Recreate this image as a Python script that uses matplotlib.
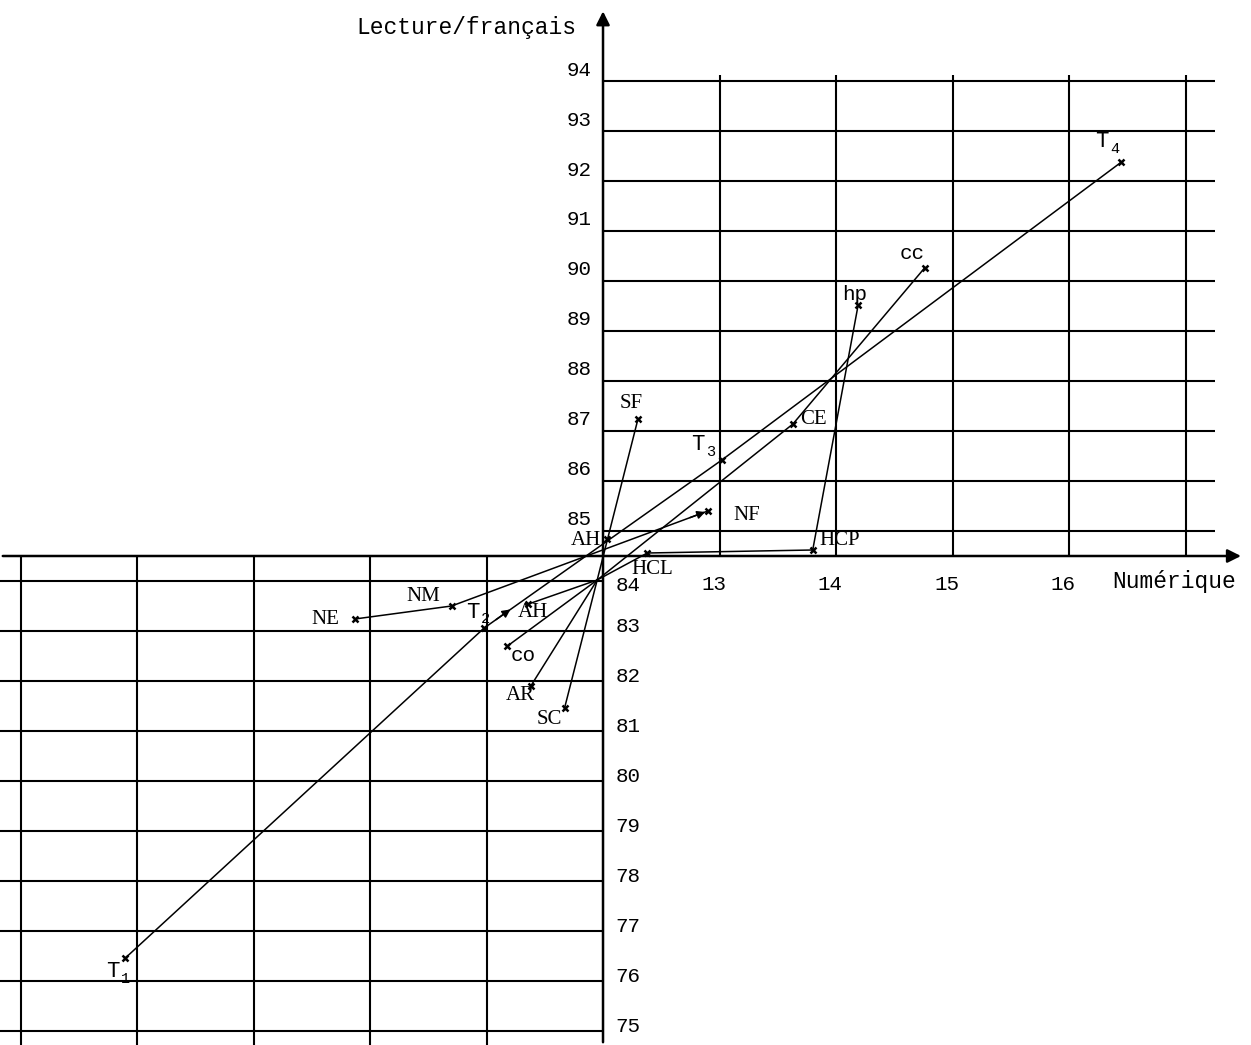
import matplotlib
matplotlib.use("Agg")
import matplotlib.pyplot as plt

# Axis values
x_ticks_upper = [13, 14, 15, 16]
grid_x_upper = [13, 14, 15, 16, 17]
grid_x_lower = [7, 8, 9, 10, 11]
grid_y_upper = [85, 86, 87, 88, 89, 90, 91, 92, 93, 94]
grid_y_lower = [75, 76, 77, 78, 79, 80, 81, 82, 83, 84]
x_origin, y_origin = 12, 84.5

# Point positions (Numérique, Lecture/français)
points = {
    "T1": (7.90, 76.46), "T2": (10.98, 83.06), "T3": (13.02, 86.42), "T4": (16.45, 92.38),
    "NE": (9.87, 83.24), "NM": (10.70, 83.50), "NF": (12.90, 85.40),
    "hub": (11.95, 84.02), "SF": (12.30, 87.24),
    "HCL": (12.38, 84.56), "HCP": (13.80, 84.62), "hp": (14.19, 89.52),
    "CE": (13.63, 87.14), "cc": (14.76, 90.26),
    "co": (11.18, 82.70), "AR": (11.38, 81.90), "SC": (11.67, 81.46),
    "AH_lo": (11.36, 83.54), "AH_up": (12.03, 84.84),
}

# Trajectories drawn as polylines
paths = [
    ["T1", "T2", "T3", "T4"],
    ["NE", "NM", "NF"],
    ["hub", "SF"],
    ["hub", "HCL", "HCP", "hp"],
    ["hub", "CE", "cc"],
    ["hub", "co"],
    ["hub", "AR"],
    ["hub", "SC"],
    ["hub", "AH_lo"],
]
# Segments carrying a direction arrow: (from, to, fraction along segment)
arrow_segments = [("T2", "T3", 0.12), ("NM", "NF", 1.0)]

# Serif labels: (text, x, y)
serif_labels = [
    ("AH", 11.85, 84.82), ("AH", 11.40, 83.38), ("NM", 10.46, 83.68), ("NE", 9.62, 83.22),
    ("AR", 11.29, 81.72), ("SC", 11.54, 81.22), ("SF", 12.24, 87.54), ("NF", 13.23, 85.32),
    ("HCL", 12.42, 84.22), ("HCP", 14.03, 84.80), ("CE", 13.81, 87.22),
]
mono_labels = [("co", 11.31, 82.50), ("hp", 14.16, 89.72), ("cc", 14.65, 90.54)]
t_labels = [("T", "1", 7.79, 76.18), ("T", "2", 10.88, 83.38), ("T", "3", 12.81, 86.72),
            ("T", "4", 16.28, 92.78)]

fig = plt.figure(figsize=(12.51, 10.45), dpi=100)
ax = fig.add_axes([0, 0, 1, 1])
ax.set_xlim(6.824, 17.562)
ax.set_ylim(74.72, 95.62)
ax.axis("off")

grid_kw = dict(color="black", lw=1.5, solid_capstyle="butt")
for y in grid_y_upper:
    ax.plot([x_origin, 17.25], [y, y], **grid_kw)
for x in grid_x_upper:
    ax.plot([x, x], [y_origin, 94.12], **grid_kw)
for y in grid_y_lower:
    ax.plot([6.824, x_origin], [y, y], **grid_kw)
for x in grid_x_lower:
    ax.plot([x, x], [74.72, y_origin], **grid_kw)

# Main axes with arrowheads
arrow_kw = dict(arrowstyle="-|>", lw=1.8, color="black", mutation_scale=20)
ax.annotate("", xy=(17.50, y_origin), xytext=(6.824, y_origin), arrowprops=arrow_kw)
ax.annotate("", xy=(x_origin, 95.45), xytext=(x_origin, 74.72), arrowprops=arrow_kw)

for path in paths:
    xs = [points[p][0] for p in path]
    ys = [points[p][1] for p in path]
    ax.plot(xs, ys, color="black", lw=1.1)

for name, (x, y) in points.items():
    if name == "hub":
        continue
    ax.plot(x, y, marker="x", ms=5, mew=1.8, color="black")

for a, b, frac in arrow_segments:
    (x0, y0), (x1, y1) = points[a], points[b]
    xe, ye = x0 + (x1 - x0) * frac, y0 + (y1 - y0) * frac
    xs, ys = xe - (x1 - x0) * 0.08, ye - (y1 - y0) * 0.08
    ax.annotate("", xy=(xe, ye), xytext=(xs, ys),
                arrowprops=dict(arrowstyle="-|>", lw=1.1, color="black", mutation_scale=12))

mono = "Liberation Mono"
serif = "Liberation Serif"

for y in grid_y_upper:
    ax.text(11.905, y + 0.22, str(y), ha="right", va="center", fontsize=15, family=mono)
for y in grid_y_lower:
    ax.text(12.11, y + 0.1 if y != 84 else y - 0.1, str(y), ha="left", va="center",
            fontsize=15, family=mono)
for x in x_ticks_upper:
    ax.text(x - 0.05, 83.92, str(x), ha="center", va="center", fontsize=15, family=mono)

ax.text(16.90, 83.98, "Numérique", ha="center", va="center", fontsize=16.5, family=mono)
ax.text(11.77, 95.06, "Lecture/français", ha="right", va="center", fontsize=16.5, family=mono)

for txt, x, y in serif_labels:
    ax.text(x, y, txt, ha="center", va="center", fontsize=15, family=serif)
for txt, x, y in mono_labels:
    ax.text(x, y, txt, ha="center", va="center", fontsize=15, family=mono)
for main, sub, x, y in t_labels:
    ax.text(x, y, main, ha="center", va="center", fontsize=16, family=mono)
    ax.text(x + 0.11, y - 0.14, sub, ha="center", va="center", fontsize=11, family=mono)

fig.savefig("out.png", dpi=100, facecolor="white")
